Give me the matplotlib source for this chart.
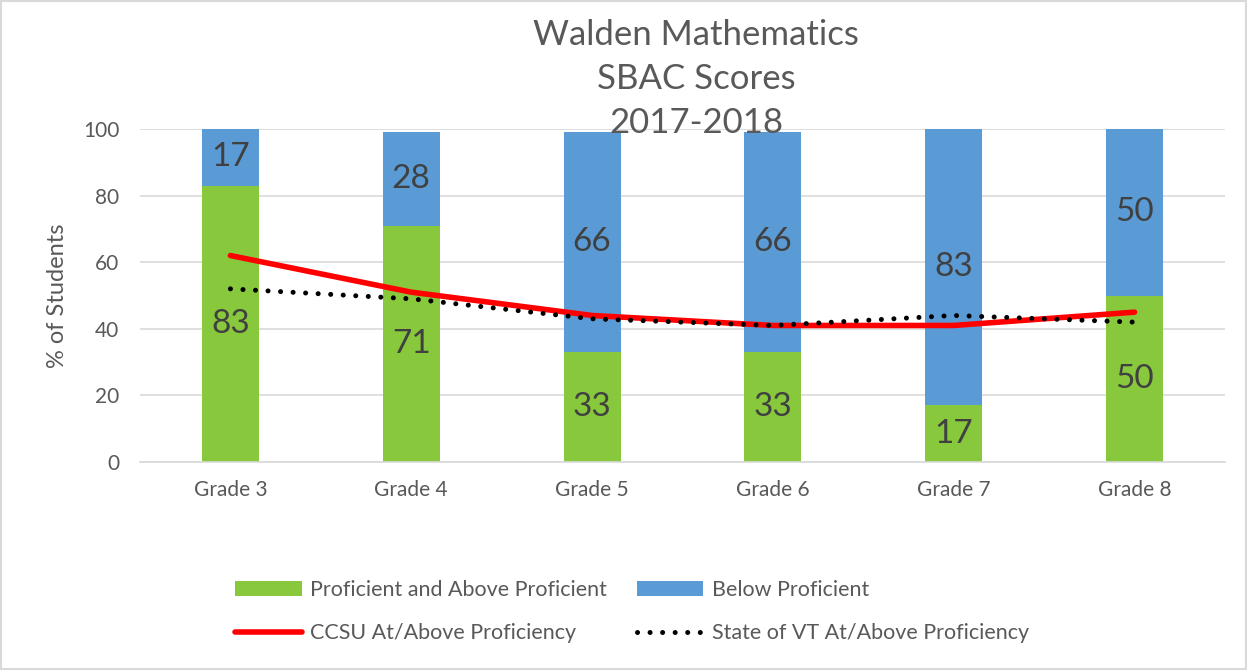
"""
Walden Mathematics SBAC scores 2017-2018: stacked bars per grade with
CCSU and State of VT proficiency lines.
"""

import matplotlib
matplotlib.use("Agg")
import matplotlib.pyplot as plt
from matplotlib.patches import Rectangle

plt.rcParams["font.family"] = ["Lato", "DejaVu Sans"]

GRADOS = ["Grade 3", "Grade 4", "Grade 5", "Grade 6", "Grade 7", "Grade 8"]
PROFICIENTE = [83, 71, 33, 33, 17, 50]
BAJO_PROFICIENTE = [17, 28, 66, 66, 83, 50]
CCSU = [62, 51, 44, 41, 41, 45]
ESTADO_VT = [52, 49, 43, 41, 44, 42]

COLOR_VERDE = "#88C83C"
COLOR_AZUL = "#5B9BD5"
COLOR_ROJO = "#FF0000"
COLOR_TEXTO = "#595959"
COLOR_ETIQUETA = "#404040"
COLOR_REJILLA = "#D9D9D9"

figura = plt.figure(figsize=(12.47, 6.70), dpi=100)
ejes = figura.add_axes([140 / 1247, 1 - 462 / 670, 1085 / 1247, 333 / 670])

x = list(range(len(GRADOS)))
ancho = 0.315

barras_verdes = ejes.bar(x, PROFICIENTE, width=ancho, color=COLOR_VERDE, zorder=2,
                         label="Proficient and Above Proficient")
barras_azules = ejes.bar(x, BAJO_PROFICIENTE, width=ancho, bottom=PROFICIENTE,
                         color=COLOR_AZUL, zorder=2, label="Below Proficient")

for i in x:
    ejes.text(i, PROFICIENTE[i] / 2, str(PROFICIENTE[i]), ha="center", va="center",
              fontsize=24, color=COLOR_ETIQUETA, zorder=3)
    ejes.text(i, PROFICIENTE[i] + BAJO_PROFICIENTE[i] / 2, str(BAJO_PROFICIENTE[i]),
              ha="center", va="center", fontsize=24, color=COLOR_ETIQUETA, zorder=3)

linea_ccsu, = ejes.plot(x, CCSU, color=COLOR_ROJO, linewidth=4,
                        solid_capstyle="round", solid_joinstyle="round", zorder=4,
                        label="CCSU At/Above Proficiency")
linea_vt, = ejes.plot(x, ESTADO_VT, color="black", linewidth=3.6,
                      linestyle=(0, (0.01, 2.5)), dash_capstyle="round", zorder=5,
                      label="State of VT At/Above Proficiency")

ejes.set_xlim(-0.5, len(GRADOS) - 0.5)
ejes.set_ylim(0, 100)
ejes.set_yticks([0, 20, 40, 60, 80, 100])
ejes.set_xticks(x)
ejes.set_xticklabels(GRADOS)
ejes.tick_params(axis="both", length=0, labelsize=15, colors=COLOR_TEXTO)
ejes.tick_params(axis="y", pad=15)
ejes.tick_params(axis="x", pad=13)
ejes.grid(True, axis="y", color=COLOR_REJILLA, linewidth=1.2, zorder=0)
ejes.set_axisbelow(True)
for lado in ["top", "right", "left"]:
    ejes.spines[lado].set_visible(False)
ejes.spines["bottom"].set_color(COLOR_REJILLA)
ejes.spines["bottom"].set_linewidth(1.2)

figura.text(58 / 1247, 1 - 296 / 670, "% of Students", rotation=90, ha="center",
            va="center", fontsize=17, color=COLOR_TEXTO)

figura.text(696 / 1247, 1 - 79 / 670, "Walden Mathematics\nSBAC Scores\n2017-2018",
            ha="center", va="center", fontsize=25, color=COLOR_TEXTO, linespacing=1.47)

figura.legend(handles=[barras_verdes, linea_ccsu, barras_azules, linea_vt], ncol=2,
              loc="upper left", bbox_to_anchor=(224 / 1247, 1 - 569 / 670),
              frameon=False, fontsize=15.5, labelcolor=COLOR_TEXTO,
              handlelength=3.1, handletextpad=0.38, columnspacing=1.4,
              labelspacing=1.1, borderpad=0)

figura.patches.append(Rectangle((0.001, 0.001), 0.998, 0.998, transform=figura.transFigure,
                                fill=False, edgecolor="#D9D9D9", linewidth=1.5))

figura.savefig("out.png", dpi=100)
plt.close(figura)
